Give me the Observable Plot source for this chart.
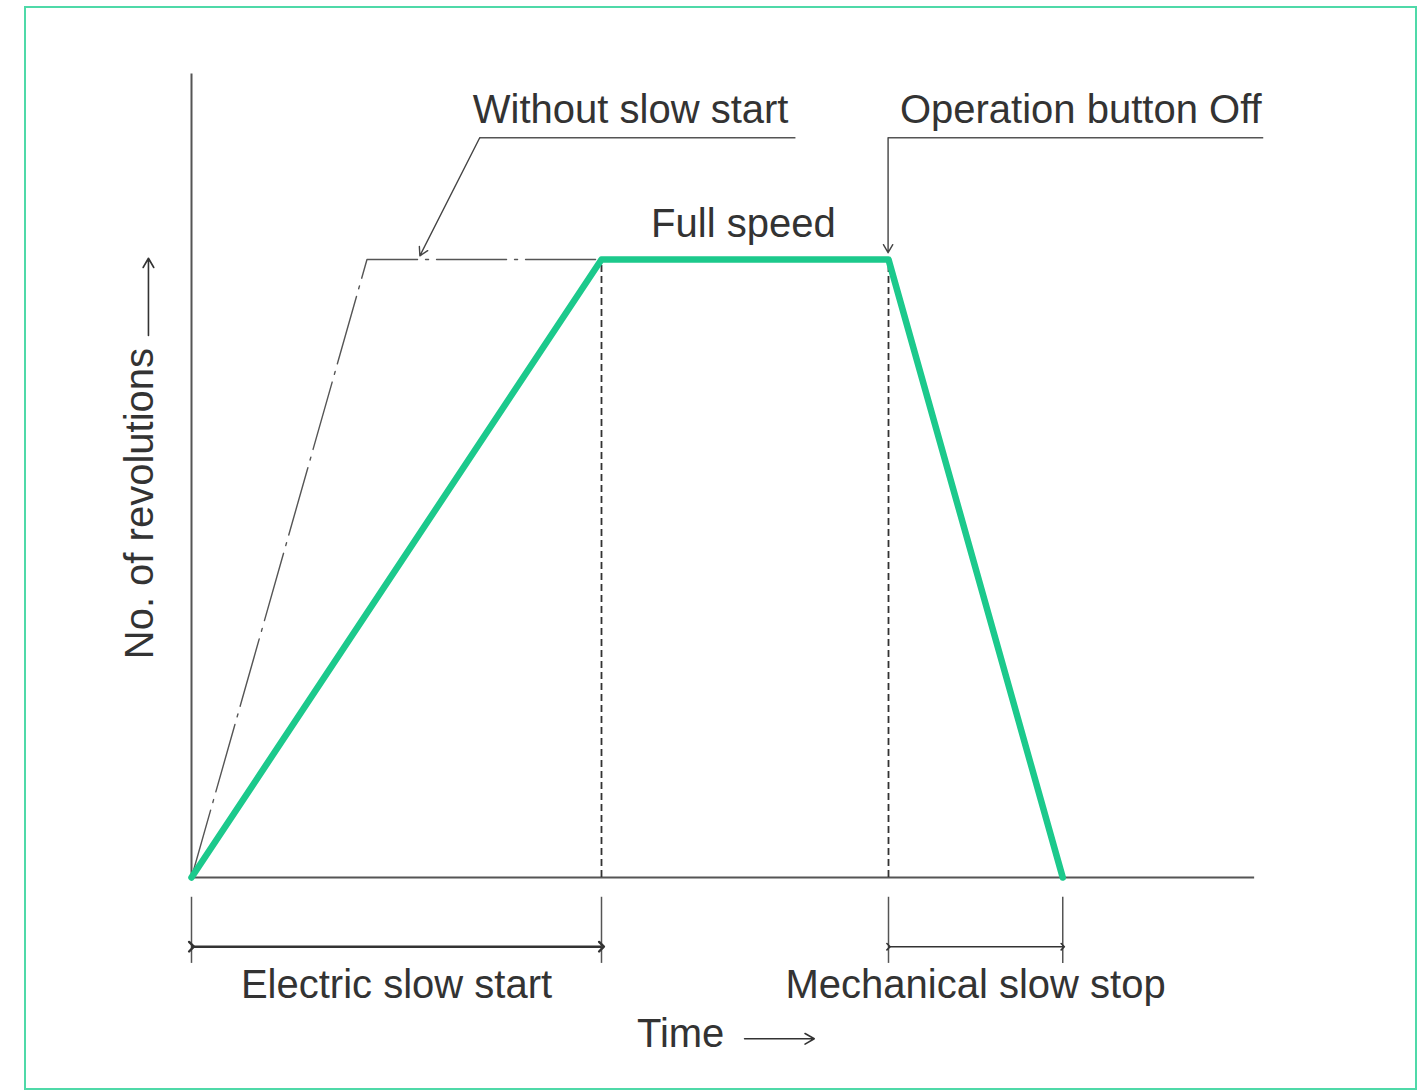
<!DOCTYPE html>
<html>
<head>
<meta charset="utf-8">
<script src="https://cdn.jsdelivr.net/npm/d3@7"></script>
<script src="https://cdn.jsdelivr.net/npm/@observablehq/plot@0.6"></script>
<style>
  html, body { margin: 0; padding: 0; background: #fff; }
  #wrap { position: relative; width: 1423px; height: 1090px; overflow: hidden; }
  #frame { position: absolute; left: 24px; top: 6px; width: 1389px; height: 1080px; border: 2px solid #4fd9a8; box-sizing: content-box; pointer-events: none; }
  #chart { position: absolute; left: 0; top: 0; }
</style>
</head>
<body>
<div id="wrap"><div id="frame"></div><div id="chart"></div></div>
<script>
// Time (arbitrary units) and revolutions (fraction of full speed)
const slowStartTime = [0, 10, 17, 21.25];
const slowStartRev = [0, 1, 1, 0];
const noSlowTime = [0, 4.28, 10];
const noSlowRev = [0, 1, 1];
const phaseMarks = [10, 17];                 // end of electric slow start, operation off
const axisMax = { time: 26, rev: 1.3 };

// dimension intervals below the axis
const spanLabels = ["Electric slow start", "Mechanical slow stop"];
const spanStart = [0, 17];
const spanEnd = [10, 21.25];

// annotation texts
const noteTexts = ["Without slow start", "Full speed", "Operation button Off"];
const noteTime = [10.71, 13.46, 21.69];
const noteRev = [1.241, 1.057, 1.241];
// leader lines (underline) and pointer arrows
const leaderX1 = [7.03, 16.99];
const leaderX2 = [14.73, 26.14];
const leaderY = [1.197, 1.197];
const pointerX2 = [5.57, 16.99];
const pointerY2 = [1.006, 1.011];

const green = "#1cc98c";
const ink = "#333";
const font = "Liberation Sans, Arial, sans-serif";

const line1 = slowStartTime.map((t, i) => ({t, r: slowStartRev[i]}));
const line2 = noSlowTime.map((t, i) => ({t, r: noSlowRev[i]}));
const spans = spanLabels.map((label, i) => ({label, a: spanStart[i], b: spanEnd[i], mid: (spanStart[i] + spanEnd[i]) / 2}));
const notes = noteTexts.map((text, i) => ({text, t: noteTime[i], r: noteRev[i]}));
const leaders = leaderX1.map((x1, i) => ({x1, x2: leaderX2[i], y: leaderY[i], px: pointerX2[i], py: pointerY2[i]}));

const tickTop = -0.032, tickBottom = -0.139, dimY = -0.112, dimLabelY = -0.175;
const fs = 40;

const chart = Plot.plot({
  width: 1423,
  height: 1090,
  marginLeft: 191,
  marginRight: 166,
  marginTop: 73.6,
  marginBottom: 213,
  x: { domain: [0, axisMax.time], axis: null },
  y: { domain: [0, axisMax.rev], axis: null },
  style: { fontFamily: font, background: "transparent" },
  marks: [
    // axes
    Plot.ruleX([0], { y1: 0, y2: axisMax.rev, stroke: "#555", strokeWidth: 2 }),
    Plot.ruleY([0], { x1: 0, x2: 25.93, stroke: "#555", strokeWidth: 2 }),
    // phase dashed verticals
    Plot.ruleX(phaseMarks, { y1: 0, y2: 1, stroke: "#333", strokeWidth: 1.8, strokeDasharray: "7,4" }),
    // without slow start (dash-dot)
    Plot.line(line2, { x: "t", y: "r", stroke: "#555", strokeWidth: 1.4, strokeDasharray: "70,8,3,8" }),
    // slow-start profile
    Plot.line(line1, { x: "t", y: "r", stroke: green, strokeWidth: 6.5, strokeLinejoin: "round" }),
    // dimension ticks
    Plot.ruleX([...spanStart, ...spanEnd], { y1: tickTop, y2: tickBottom, stroke: "#555", strokeWidth: 1.5 }),
    // dimension arrows
    Plot.link(spans, { x1: "a", x2: "b", y1: dimY, y2: dimY, stroke: "#333", strokeWidth: [2.4, 1.6], markerStart: "arrow", markerEnd: "arrow" }),
    Plot.text(spans, { x: "mid", y: dimLabelY, text: "label", fontSize: fs, fill: ink, textAnchor: "middle", lineAnchor: "middle" }),
    // time label
    Plot.text(["Time"], { x: 11.93, y: -0.254, text: d => d, fontSize: fs, fill: ink, textAnchor: "middle", lineAnchor: "middle" }),
    Plot.arrow([0], { x1: 13.49, x2: 15.19, y1: -0.261, y2: -0.261, stroke: "#333", strokeWidth: 1.6, headLength: 10 }),
    // revolutions label
    Plot.text(["No. of revolutions"], { x: -1.24, y: 0.605, text: d => d, fontSize: fs, fill: ink, rotate: -90, textAnchor: "middle", lineAnchor: "middle" }),
    Plot.arrow([0], { x1: -1.05, x2: -1.05, y1: 0.877, y2: 1.002, stroke: "#333", strokeWidth: 1.6, headLength: 10 }),
    // annotations
    Plot.text(notes, { x: "t", y: "r", text: "text", fontSize: fs, fill: ink, textAnchor: "middle", lineAnchor: "middle" }),
    Plot.link(leaders, { x1: "x1", x2: "x2", y1: "y", y2: "y", stroke: "#555", strokeWidth: 1.6 }),
    Plot.arrow(leaders, { x1: "x1", y1: "y", x2: "px", y2: "py", stroke: "#444", strokeWidth: 1.4, headLength: 10, bend: false })
  ]
});
document.getElementById("chart").appendChild(chart);
</script>
</body>
</html>
